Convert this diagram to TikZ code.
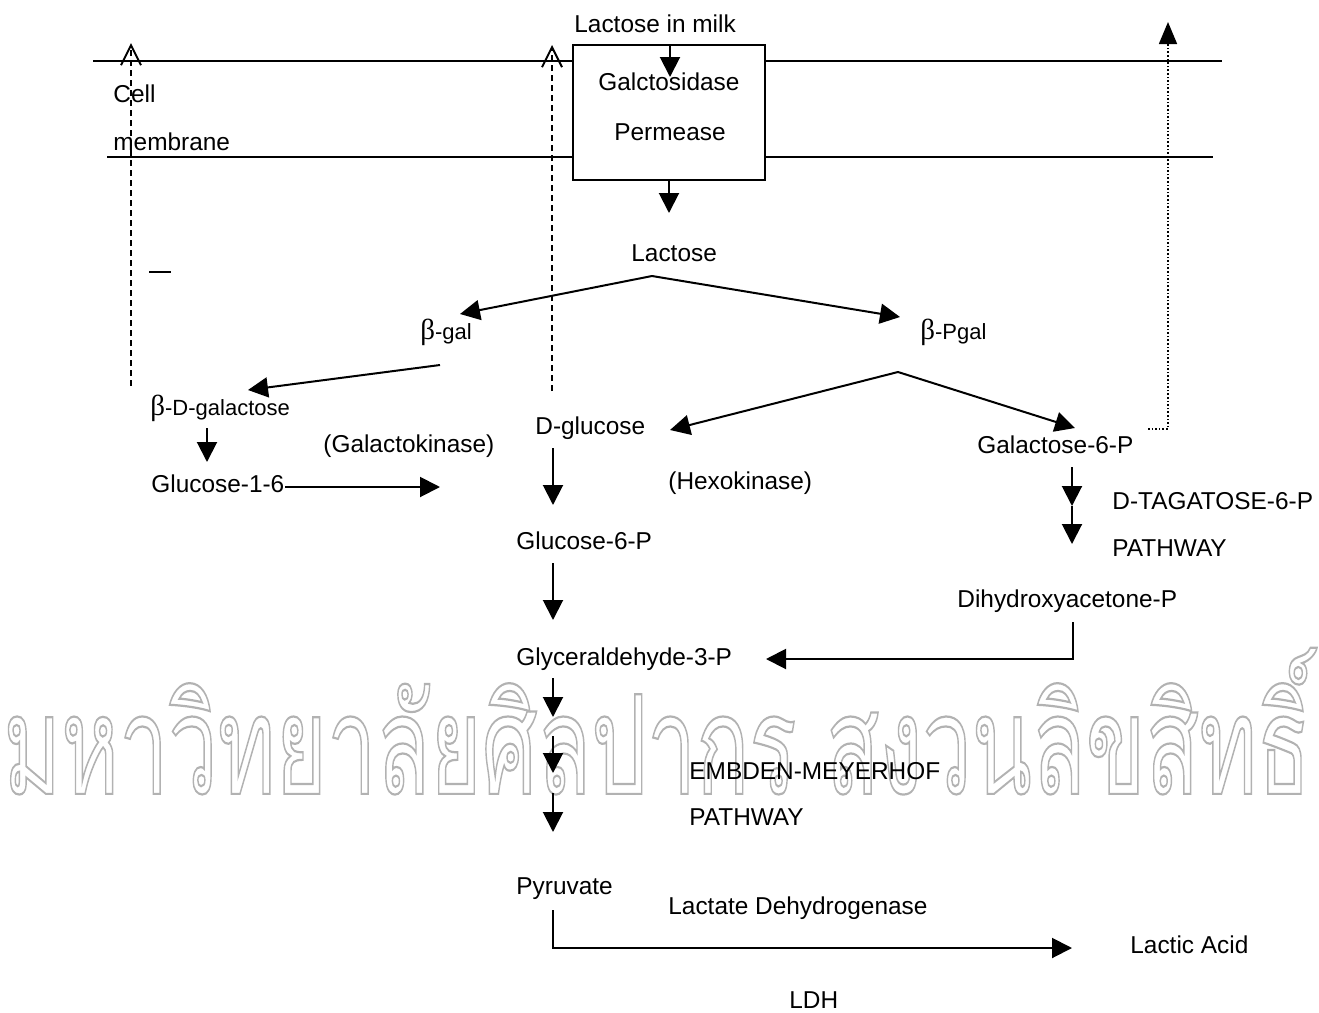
\documentclass[tikz,border=0pt]{standalone}
\usepackage{graphicx}
\usepackage{fontspec}
\setmainfont{Liberation Sans}
\newfontfamily\greekfont{Liberation Serif}
\newfontfamily\thaifont[Script=Thai]{Loma}
\usetikzlibrary{arrows.meta}
\tikzset{
  lbl/.style={anchor=base west, inner sep=0pt, font=\fontsize{12.2}{14}\selectfont},
  conn/.style={line width=1pt, -{Triangle[length=10pt,width=10pt]}},
  plainline/.style={line width=1pt},
  dashup/.style={line width=1pt, dash pattern=on 3pt off 2pt, -{Straight Barb[length=10pt,width=10pt]}},
  dotup/.style={line width=0.8pt, densely dotted, -{Triangle[length=11pt,width=9pt]}},
  wmark/.style={anchor=south west, inner sep=0pt, text=black!30},
}
\newcommand{\gb}{{\greekfont\fontsize{14.5}{14}\selectfont β}}
\newcommand{\sm}{\fontsize{11}{14}\selectfont}
\begin{document}
\begin{tikzpicture}[x=0.5pt,y=-0.5pt]
\useasboundingbox (0,0) rectangle (1319,1013);
% watermark
\node[wmark] (wm) at (3,795) {\resizebox{653.5pt}{73pt}{\thaifont\special{pdf:literal direct 1 Tr 0.16 w}มหาวิทยาลัยศิลปากร สงวนลิขสิทธิ์\special{pdf:literal direct 0 Tr}}};

% permease box
\node[draw, line width=1pt, minimum width=96pt, minimum height=67.5pt, inner sep=0pt] (box) at (669,112.5) {};
% membrane lines
\coordinate (m1l) at (93,61);
\coordinate (m1r) at (1222,61);
\coordinate (m2l) at (107,157);
\coordinate (m2r) at (1213,157);
\draw[plainline] (m1l) -- (m1l -| box.west);
\draw[plainline] (m1r -| box.east) -- (m1r);
\draw[plainline] (m2l) -- (m2l -| box.west);
\draw[plainline] (m2r -| box.east) -- (m2r);

% labels
\node[lbl] (milk) at (574,32) {Lactose in milk};
\node[lbl] (galc) at (598,90) {Galctosidase};
\node[lbl] (perm) at (614,140) {Permease};
\node[lbl] (cell) at (113,102) {Cell};
\node[lbl] (memb) at (113,150) {membrane};
\node[lbl] (lac) at (631,261) {Lactose};
\node[lbl] (bgal) at (420,339) {\gb\sm-gal};
\node[lbl] (bpgal) at (920,339) {\gb\sm-Pgal};
\node[lbl] (bdgal) at (150,415) {\gb\sm-D-galactose};
\node[lbl] (gk) at (323,452) {(Galactokinase)};
\node[lbl] (dglu) at (535,434) {D-glucose};
\node[lbl] (g16) at (151,492) {Glucose-1-6};
\node[lbl] (hk) at (668,489) {(Hexokinase)};
\node[lbl] (gal6p) at (977,453) {Galactose-6-P};
\node[lbl] (tag) at (1112,509) {D-TAGATOSE-6-P};
\node[lbl] (tagp) at (1112,556) {PATHWAY};
\node[lbl] (g6p) at (516,549) {Glucose-6-P};
\node[lbl] (dhap) at (957,607) {Dihydroxyacetone-P};
\node[lbl] (g3p) at (516,665) {Glyceraldehyde-3-P};
\node[lbl] (emp) at (689,779) {EMBDEN-MEYERHOF};
\node[lbl] (empp) at (689,825) {PATHWAY};
\node[lbl] (pyr) at (516,894) {Pyruvate};
\node[lbl] (ldhname) at (668,914) {Lactate Dehydrogenase};
\node[lbl] (lact) at (1130,953) {Lactic Acid};
\node[lbl] (ldh) at (789,1008) {LDH};

% coordinates for connectors
\coordinate (inA) at (670,45);   \coordinate (inB) at (670,77);
\coordinate (outA) at (669,180); \coordinate (outB) at (669,213);
\coordinate (lapex) at (652,276);
\coordinate (tbgal) at (460,314);
\coordinate (tbpgal) at (900,317);
\coordinate (sbgal) at (440,365); \coordinate (tbd) at (248,390);
\coordinate (d1) at (207,428); \coordinate (d2) at (207,462);
\coordinate (g1) at (285,487); \coordinate (g2) at (440,487);
\coordinate (dg1) at (553,448); \coordinate (dg2) at (553,505);
\coordinate (papex) at (898,372);
\coordinate (tdg) at (670,430);
\coordinate (tg6) at (1075,428);
\coordinate (g6a) at (553,563); \coordinate (g6b) at (553,620);
\coordinate (dh1) at (1073,622); \coordinate (dh2) at (1073,659); \coordinate (dh3) at (766,659);
\coordinate (t1) at (1072,467); \coordinate (t2) at (1072,506); \coordinate (t3) at (1072,544);
\coordinate (e1) at (553,678); \coordinate (e2) at (553,717);
\coordinate (e3) at (553,736); \coordinate (e4) at (553,773);
\coordinate (e5) at (553,793); \coordinate (e6) at (553,832);
\coordinate (p1) at (553,910); \coordinate (p2) at (553,948); \coordinate (p3) at (1072,948);
\coordinate (ds1) at (131,386); \coordinate (ds2) at (131,43);
\coordinate (ds3) at (552,391); \coordinate (ds4) at (552,45);
\coordinate (dt1) at (1148,429); \coordinate (dt2) at (1168,429); \coordinate (dt3) at (1168,22);
\coordinate (bar1) at (149,272); \coordinate (bar2) at (171,272);

% connectors
\draw[conn] (inA) -- (inB);
\draw[conn] (outA) -- (outB);
\draw[conn] (lapex) -- (tbgal);
\draw[conn] (lapex) -- (tbpgal);
\draw[conn] (sbgal) -- (tbd);
\draw[conn] (d1) -- (d2);
\draw[conn] (g1) -- (g2);
\draw[conn] (dg1) -- (dg2);
\draw[conn] (papex) -- (tdg);
\draw[conn] (papex) -- (tg6);
\draw[conn] (g6a) -- (g6b);
\draw[conn] (dh1) -- (dh2) -- (dh3);
\draw[conn] (t1) -- (t2);
\draw[conn] (t2) -- (t3);
\draw[conn] (e1) -- (e2);
\draw[conn] (e3) -- (e4);
\draw[conn] (e5) -- (e6);
\draw[conn] (p1) -- (p2) -- (p3);
\draw[dashup] (ds1) -- (ds2);
\draw[dashup] (ds3) -- (ds4);
\draw[dotup] (dt1) -- (dt2) -- (dt3);
\draw[plainline] (bar1) -- (bar2);
\end{tikzpicture}
\end{document}
